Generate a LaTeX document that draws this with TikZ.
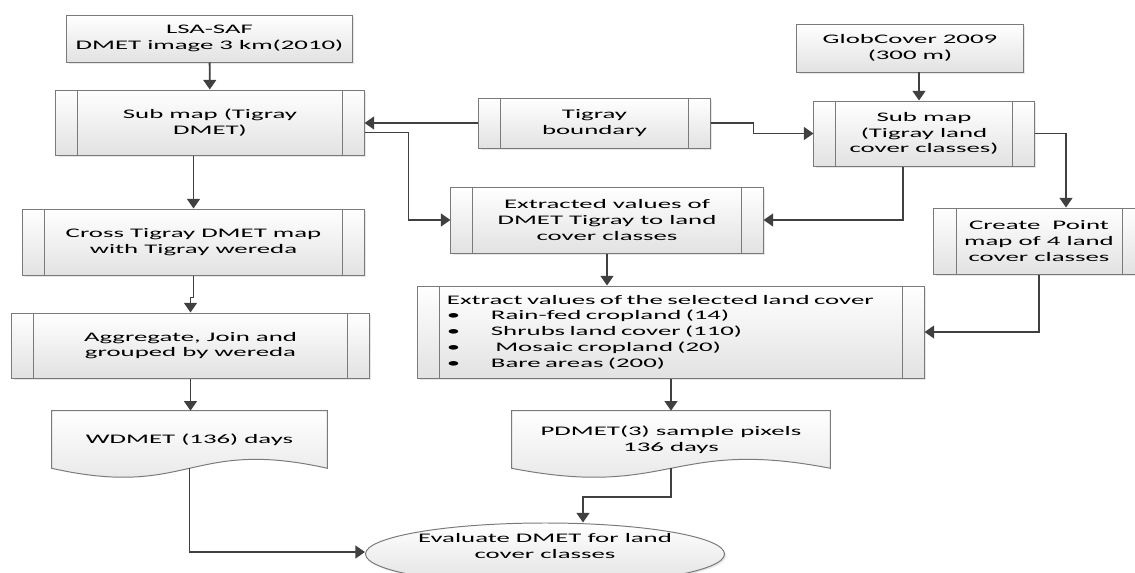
\documentclass[tikz,border=0pt]{standalone}
\usepackage{fontspec}
\setmainfont{Carlito}[FakeStretch=2.05]
\usetikzlibrary{positioning,calc,arrows.meta,shapes.geometric,backgrounds,shadows}
\definecolor{linecol}{HTML}{404040}
\definecolor{boxline}{HTML}{7A7A7A}
\definecolor{boxfill}{HTML}{E2E2E2}
\tikzset{
  flowbox/.style={draw=boxline, line width=0.7pt, top color=white, bottom color=boxfill,
    align=center, inner sep=0pt, font=\fontsize{9.3pt}{11.2pt}\selectfont,
    drop shadow={shadow xshift=1.2pt, shadow yshift=-1.2pt, opacity=0.2}},
  procbox/.style={flowbox, path picture={
      \draw[boxline, line width=0.7pt] ([xshift=0.55cm]path picture bounding box.north west) -- ([xshift=0.55cm]path picture bounding box.south west);
      \draw[boxline, line width=0.7pt] ([xshift=-0.55cm]path picture bounding box.north east) -- ([xshift=-0.55cm]path picture bounding box.south east);}},
  docbox/.style={align=center, inner sep=0pt, font=\fontsize{9.3pt}{11.2pt}\selectfont},
  docfill/.style={draw=boxline, line width=0.7pt, top color=white, bottom color=boxfill},
  flowline/.style={draw=linecol, line width=1.3pt, -{Triangle[length=0.24cm,width=0.32cm]}}
}
\begin{document}
\begin{tikzpicture}[x=0.025cm, y=-0.025cm]
  \useasboundingbox (0,0) rectangle (1135,572);

  \node[flowbox, minimum width=7.125cm, minimum height=1.175cm] (lsa) at (209.5,38.5) {LSA-SAF\\DMET image 3 km(2010)};
  \node[procbox, minimum width=7.7cm, minimum height=1.625cm] (subdmet) at (210,122.5) {Sub map (Tigray\\DMET)};
  \node[procbox, minimum width=5.775cm, minimum height=1.25cm] (bound) at (594.5,123) {Tigray\\boundary};
  \node[flowbox, minimum width=5.65cm, minimum height=1.2cm] (glob) at (910,48) {GlobCover 2009\\(300 m)};
  \node[procbox, minimum width=5.5cm, minimum height=1.625cm] (sublc) at (924,133.5) {Sub map\\(Tigray land\\cover classes)};
  \node[procbox, minimum width=8.525cm, minimum height=1.65cm] (cross) at (193.5,242) {Cross Tigray DMET map\\with Tigray wereda};
  \node[procbox, minimum width=7.8cm, minimum height=1.65cm] (extracted) at (607,220) {Extracted values of\\DMET Tigray to land\\cover classes};
  \node[procbox, minimum width=5.25cm, minimum height=1.65cm] (point) at (1039,241) {Create\ \ Point\\map of 4 land\\cover classes};
  \node[procbox, minimum width=8.925cm, minimum height=1.625cm] (aggr) at (190.5,345.5) {Aggregate, Join and\\grouped by wereda};
  \node[procbox, minimum width=12.65cm, minimum height=2.3cm, inner xsep=0.725cm, text width=11.2cm, align=left] (sel) at (671,332)
    {Extract values of the selected land cover\\
     \makebox[1.1cm][l]{\textbullet}Rain-fed cropland (14)\\
     \makebox[1.1cm][l]{\textbullet}Shrubs land cover (110)\\
     \makebox[1.1cm][l]{\textbullet}\ Mosaic cropland (20)\\
     \makebox[1.1cm][l]{\textbullet}Bare areas (200)};
  \node[docbox, minimum width=6.875cm, minimum height=1.425cm] (wdmet) at (189.5,439.5) {WDMET (136) days};
  \node[docbox, minimum width=7.95cm, minimum height=1.425cm] (pdmet) at (671,439.5) {PDMET(3) sample pixels\\136 days};
  \node[flowbox, ellipse, minimum width=8.25cm, minimum height=1.55cm] (eval) at (545,554) {Evaluate DMET for land\\cover classes\\ \mbox{}};

  \begin{scope}[on background layer]
    \path[docfill] (wdmet.north west) -- (wdmet.north east) -- (wdmet.south east)
      .. controls ($(wdmet.south)+(0,-31)$) and ($(wdmet.south)+(0,31)$) .. (wdmet.south west) -- cycle;
    \path[docfill] (pdmet.north west) -- (pdmet.north east) -- (pdmet.south east)
      .. controls ($(pdmet.south)+(0,-31)$) and ($(pdmet.south)+(0,31)$) .. (pdmet.south west) -- cycle;
  \end{scope}

  \draw[flowline] (lsa) -- (subdmet);
  \draw[flowline] (bound.west) -- (subdmet.east |- bound.west);
  \draw[flowline] ($(subdmet.east)+(0,10)$) -- ++(44,0) |- (extracted.west);
  \draw[flowline] (bound.east) -- ++(43,0) |- (sublc.west);
  \draw[flowline] ($(glob.south)+(9,0)$) -- ($(sublc.north)+(-5,0)$);
  \draw[flowline] ($(sublc.south)+(-21,0)$) |- (extracted.east);
  \draw[flowline] (sublc.east) -| ($(point.north)+(27,0)$);
  \draw[flowline] (point.south) |- (sel.east);
  \draw[flowline] (extracted.south) -- (extracted.south |- sel.north);
  \draw[flowline] (cross.north |- subdmet.south) -- (cross.north);
  \draw[flowline] (cross.south) -- ++(0,22) -| (aggr.north);
  \draw[flowline] (aggr.south) -- (aggr.south |- wdmet.north);
  \draw[flowline] (sel.south) -- (pdmet.north);
  \draw[flowline] (wdmet.south) |- ($(eval.west)+(0,-2)$);
  \draw[flowline] (pdmet.south) -- ++(0,29) -| ($(eval.north)+(38,0)$);
\end{tikzpicture}
\end{document}
